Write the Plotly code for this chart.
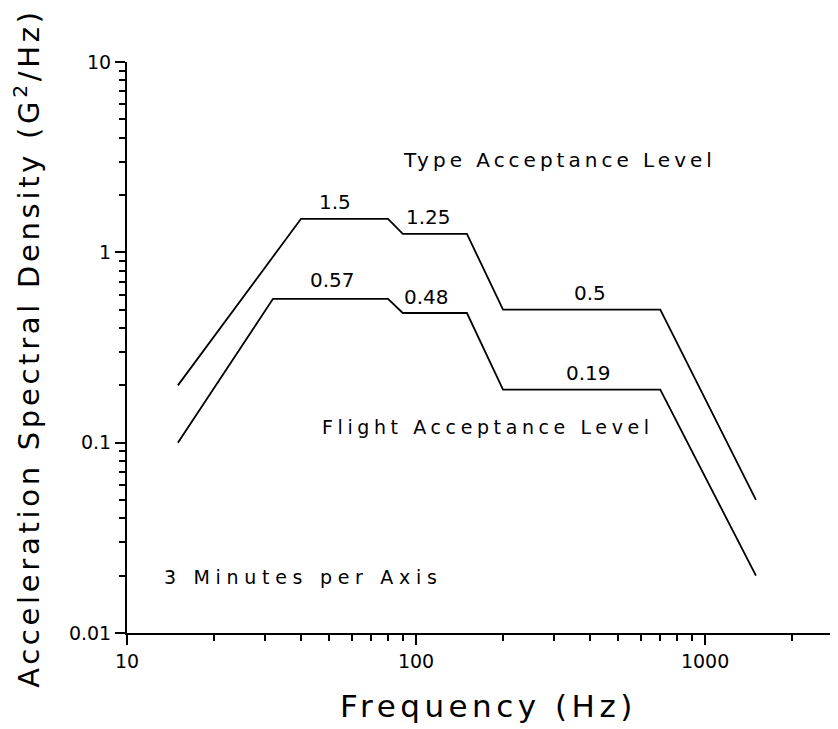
import math
import plotly.graph_objects as go

# Data
freq_type = [15, 40, 80, 90, 150, 200, 700, 1500]
psd_type = [0.2, 1.5, 1.5, 1.25, 1.25, 0.5, 0.5, 0.05]
freq_flight = [15, 32, 80, 90, 150, 200, 700, 1500]
psd_flight = [0.1, 0.57, 0.57, 0.48, 0.48, 0.19, 0.19, 0.02]

x_major = [10, 100, 1000]
x_major_text = ["10", "100", "1000"]
x_minor = [20, 30, 40, 50, 60, 70, 80, 90, 200, 300, 400, 500, 600, 700, 800, 900, 2000, 3000]
y_major = [0.01, 0.1, 1, 10]
y_major_text = ["0.01", "0.1", "1", "10"]
y_minor = [0.02, 0.03, 0.04, 0.05, 0.06, 0.07, 0.08, 0.09,
           0.2, 0.3, 0.4, 0.5, 0.6, 0.7, 0.8, 0.9,
           2, 3, 4, 5, 6, 7, 8, 9]

# value labels: (text, x freq, y psd)
value_labels = [
    ("1.5", 52.3, 1.83),
    ("1.25", 110.6, 1.53),
    ("0.57", 51.5, 0.715),
    ("0.48", 108.9, 0.582),
    ("0.5", 399, 0.611),
    ("0.19", 395, 0.232),
]

FONT = "DejaVu Sans"

def spaced(t, px):
    return '<span style="letter-spacing:%spx">%s</span>' % (px, t)

fig = go.Figure()
fig.add_trace(go.Scatter(x=freq_type, y=psd_type, mode="lines",
                         line=dict(color="black", width=1.8), showlegend=False))
fig.add_trace(go.Scatter(x=freq_flight, y=psd_flight, mode="lines",
                         line=dict(color="black", width=1.8), showlegend=False))

annotations = []
for t, fx, fy in value_labels:
    annotations.append(dict(x=math.log10(fx), y=math.log10(fy), xref="x", yref="y",
                            text=t, showarrow=False, xanchor="center", yanchor="middle",
                            font=dict(family=FONT, size=20, color="black")))

annotations += [
    dict(x=math.log10(89), y=0.484, xref="x", yref="y", text=spaced("Type Acceptance Level", 4),
         showarrow=False, xanchor="left", yanchor="middle",
         font=dict(family=FONT, size=20, color="black")),
    dict(x=1.668, y=-0.918, xref="x", yref="y", text=spaced("Flight Acceptance Level", 4.6),
         showarrow=False, xanchor="left", yanchor="middle",
         font=dict(family=FONT, size=19, color="black")),
    dict(x=1.122, y=-1.705, xref="x", yref="y", text=spaced("3 Minutes per Axis", 5.7),
         showarrow=False, xanchor="left", yanchor="middle",
         font=dict(family=FONT, size=19, color="black")),
    dict(x=0.509, y=-0.127, xref="paper", yref="paper", text=spaced("Frequency (Hz)", 4.5),
         showarrow=False, xanchor="center", yanchor="middle",
         font=dict(family=FONT, size=31, color="black")),
    dict(x=-0.141, y=0.499, xref="paper", yref="paper",
         text=spaced("Acceleration Spectral Density (G<sup>2</sup>/Hz)", 3.7), textangle=-90,
         showarrow=False, xanchor="center", yanchor="middle",
         font=dict(family=FONT, size=29, color="black")),
]

fig.update_layout(
    width=830, height=721,
    margin=dict(l=119, r=0, t=54, b=96),
    paper_bgcolor="white", plot_bgcolor="white",
    annotations=annotations,
    xaxis=dict(type="log", range=[1, 3.46], showline=True, linecolor="black", linewidth=2,
               showgrid=False, zeroline=False, mirror=False,
               tickmode="array", tickvals=x_major, ticktext=x_major_text,
               ticks="outside", ticklen=10, tickwidth=2, tickcolor="black",
               tickfont=dict(family=FONT, size=19, color="black"),
               minor=dict(tickmode="array", tickvals=x_minor, ticks="outside",
                          ticklen=6, tickwidth=1.5, tickcolor="black", showgrid=False)),
    yaxis=dict(type="log", range=[-2, 1], showline=True, linecolor="black", linewidth=2,
               showgrid=False, zeroline=False, mirror=False,
               tickmode="array", tickvals=y_major, ticktext=y_major_text,
               ticks="outside", ticklen=10, tickwidth=2, tickcolor="black",
               tickfont=dict(family=FONT, size=19, color="black"),
               minor=dict(tickmode="array", tickvals=y_minor, ticks="outside",
                          ticklen=6, tickwidth=1.5, tickcolor="black", showgrid=False)),
)

fig.write_html("out.html")
